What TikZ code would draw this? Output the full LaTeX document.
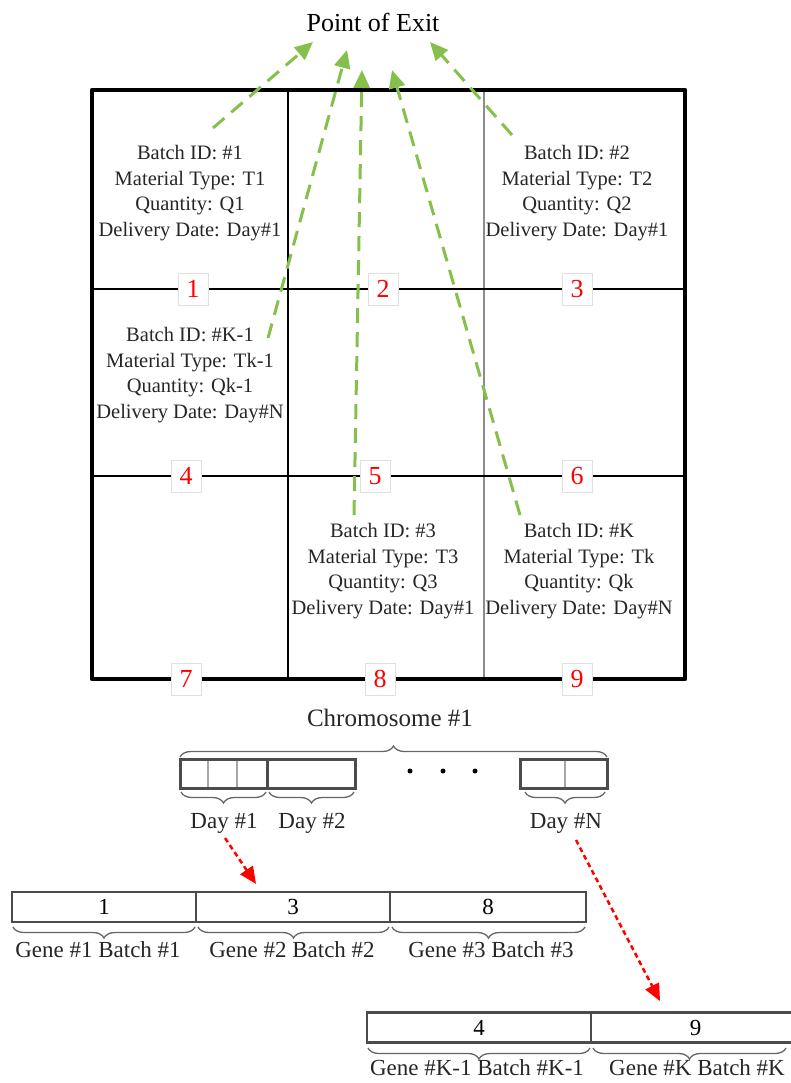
\documentclass[tikz,border=0pt]{standalone}
\usepackage{fontspec}
\setmainfont{Liberation Serif}
\usetikzlibrary{arrows.meta,decorations.pathreplacing}
\definecolor{exitgreen}{HTML}{86C04C}
\begin{document}
\begin{tikzpicture}[x=1pt,y=-1pt,
  celltext/.style={align=center,inner sep=0pt,text=black!85,font=\fontsize{20.5}{25.7}\selectfont},
  numlbl/.style={draw=black!12,fill=white,text=red,minimum width=30pt,minimum height=32pt,inner sep=0pt,font=\fontsize{26}{26}\selectfont},
  exitarrow/.style={draw=exitgreen,line width=3pt,dash pattern=on 15pt off 9pt,-{Triangle[length=18pt,width=16pt,fill=exitgreen]}},
  redarrow/.style={draw=red,line width=2.5pt,dash pattern=on 5pt off 3.5pt,-{Triangle[length=17pt,width=15pt,fill=red]}},
  chrbox/.style={draw=black!70,line width=3pt,inner sep=0pt,minimum height=29pt},
  genebox/.style={draw=black!70,line width=2.5pt,inner sep=0pt,minimum height=30pt,font=\fontsize{23}{23}\selectfont},
  bracetop/.style={draw=black!60,line width=1.3pt,decorate,decoration={brace,amplitude=11pt}},
  bracebot/.style={draw=black!60,line width=1.3pt,decorate,decoration={brace,mirror,amplitude=11pt}},
  smalllbl/.style={inner sep=0pt,text=black!85,font=\fontsize{23}{23}\selectfont}
]
\useasboundingbox (0,0) rectangle (791,1083);

% title
\node[inner sep=0pt,font=\fontsize{26}{26}\selectfont] (exit) at (373,22) {Point of Exit};

% grid
\draw[black,line width=1.3pt] (288,90) -- (288,679);
\draw[black!45,line width=1.8pt] (484,90) -- (484,679);
\draw[black,line width=1.3pt] (92,289) -- (685,289);
\draw[black,line width=1.3pt] (92,476) -- (685,476);
\draw[black,line width=4.5pt,line join=round] (92,90) rectangle (685,679);

% cell texts
\node[celltext] (b1) at (190,193) {Batch ID: \#1\\Material Type: T1\\Quantity: Q1\\Delivery Date: Day\#1};
\node[celltext] (b2) at (577,193) {Batch ID: \#2\\Material Type: T2\\Quantity: Q2\\Delivery Date: Day\#1};
\node[celltext] (bk1) at (190,375) {Batch ID: \#K-1\\Material Type: Tk-1\\Quantity: Qk-1\\Delivery Date: Day\#N};
\node[celltext] (b3) at (383,571) {Batch ID: \#3\\Material Type: T3\\Quantity: Q3\\Delivery Date: Day\#1};
\node[celltext] (bk) at (579,571) {Batch ID: \#K\\Material Type: Tk\\Quantity: Qk\\Delivery Date: Day\#N};

% arrow end points
\coordinate (s1) at (213,128);
\coordinate (t1) at (313,42);
\coordinate (s2) at (268,338);
\coordinate (t2) at (347,50);
\coordinate (s3) at (354,515);
\coordinate (t3) at (362,70);
\coordinate (s4) at (520,515);
\coordinate (t4) at (392,70);
\coordinate (s5) at (512,135);
\coordinate (t5) at (430,42);
\draw[exitarrow] (s1) -- (t1);
\draw[exitarrow] (s2) -- (t2);
\draw[exitarrow] (s3) -- (t3);
\draw[exitarrow] (s4) -- (t4);
\draw[exitarrow] (s5) -- (t5);

% cell numbers
\node[numlbl] (n1) at (193,289) {1};
\node[numlbl] (n2) at (383,289) {2};
\node[numlbl] (n3) at (577,289) {3};
\node[numlbl] (n4) at (186,476) {4};
\node[numlbl] (n5) at (375,476) {5};
\node[numlbl] (n6) at (577,476) {6};
\node[numlbl] (n7) at (186,679) {7};
\node[numlbl] (n8) at (380,679) {8};
\node[numlbl] (n9) at (577,679) {9};

% chromosome
\node[inner sep=0pt,text=black!85,font=\fontsize{25}{25}\selectfont] (chrom) at (390,718) {Chromosome \#1};
\draw[bracetop] (180,757) -- (607,757);
\node[chrbox,minimum width=87pt] (c1) at (223.5,773.5) {};
\node[chrbox,minimum width=88pt] (c2) at (311,773.5) {};
\node[chrbox,minimum width=87pt] (cn) at (563.5,773.5) {};
\draw[black!35,line width=1.5pt] (208,760.5) -- (208,786.5);
\draw[black!35,line width=1.5pt] (237,760.5) -- (237,786.5);
\draw[black!35,line width=1.5pt] (565,760.5) -- (565,786.5);
\fill (410,771) circle (2.5pt);
\fill (443,771) circle (2.5pt);
\fill (475,771) circle (2.5pt);
\draw[bracebot] (181,792) -- (266,792);
\draw[bracebot] (269,792) -- (354,792);
\draw[bracebot] (525,792) -- (605,792);
\node[smalllbl] (d1) at (224,823) {Day \#1};
\node[smalllbl] (d2) at (312,823) {Day \#2};
\node[smalllbl] (dn) at (566,823) {Day \#N};

% red arrows
\coordinate (r1s) at (225,838);
\coordinate (r1t) at (256,884);
\coordinate (r2s) at (576,840);
\coordinate (r2t) at (660,1001);
\draw[redarrow] (r1s) -- (r1t);
\draw[redarrow] (r2s) -- (r2t);

% genes row 1
\node[genebox,minimum width=184pt] (g1) at (104,907) {1};
\node[genebox,minimum width=194pt] (g2) at (293,907) {3};
\node[genebox,minimum width=196pt] (g3) at (488,907) {8};
\draw[bracebot] (13,927) -- (195,927);
\draw[bracebot] (198,927) -- (389,927);
\draw[bracebot] (392,927) -- (585,927);
\node[smalllbl] (l1) at (98,950) {Gene \#1 Batch \#1};
\node[smalllbl] (l2) at (292,950) {Gene \#2 Batch \#2};
\node[smalllbl] (l3) at (491,950) {Gene \#3 Batch \#3};

% genes row 2
\node[genebox,minimum width=224pt] (g4) at (479,1027.5) {4};
\node[genebox,minimum width=209pt] (g5) at (695.5,1027.5) {9};
\draw[bracebot] (368,1048) -- (590,1048);
\draw[bracebot] (593,1048) -- (786,1048);
\node[smalllbl] (l4) at (477,1068) {Gene \#K-1 Batch \#K-1};
\node[smalllbl] (l5) at (697,1068) {Gene \#K Batch \#K};
\end{tikzpicture}
\end{document}
